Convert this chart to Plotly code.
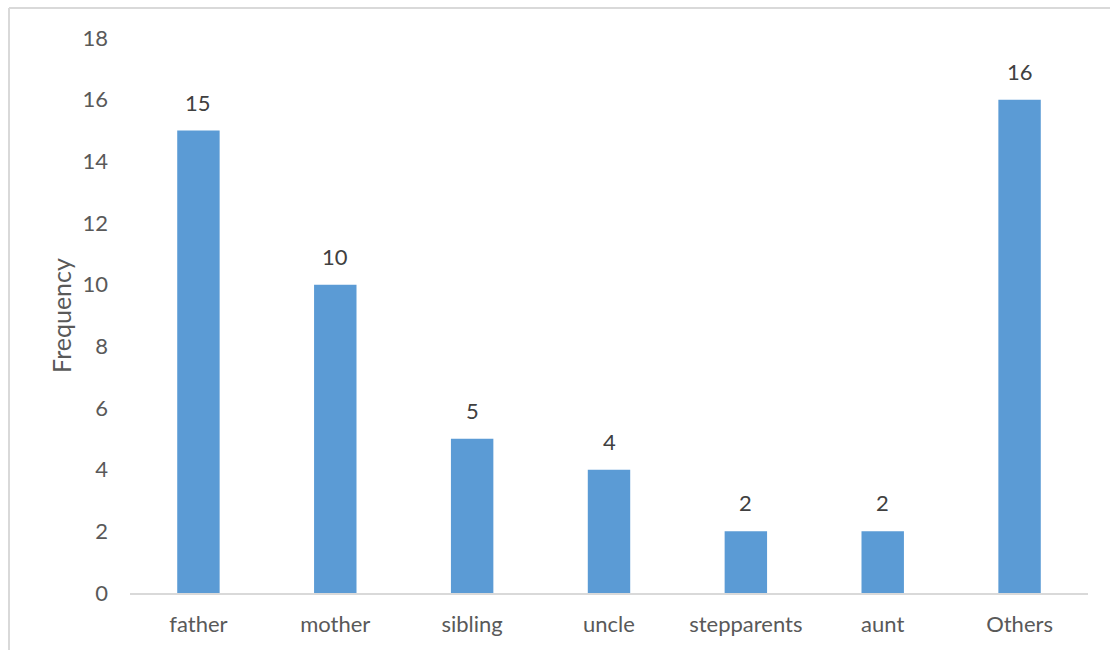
import plotly.graph_objects as go

categories = ["father", "mother", "sibling", "uncle", "stepparents", "aunt", "Others"]
frequency = [15, 10, 5, 4, 2, 2, 16]
y_ticks = [0, 2, 4, 6, 8, 10, 12, 14, 16, 18]

FONT = "Lato"
SIZE = 22
fig = go.Figure(
    go.Bar(
        x=categories,
        y=frequency,
        marker=dict(color="#5B9BD5", line=dict(width=0)),
        hoverinfo="x+y",
    )
)

# data labels above bars
for c, v in zip(categories, frequency):
    fig.add_annotation(
        x=c, y=v, text=str(v), showarrow=False, yanchor="bottom", yshift=13,
        font=dict(family=FONT, size=SIZE, color="#404040"),
    )

fig.update_layout(
    width=1110,
    height=650,
    margin=dict(l=130, r=22, t=38, b=57),
    paper_bgcolor="white",
    plot_bgcolor="white",
    bargap=0.69,
    showlegend=False,
    font=dict(family=FONT, size=SIZE, color="#595959"),
    xaxis=dict(
        showline=True,
        linecolor="#D9D9D9",
        linewidth=1.5,
        showgrid=False,
        ticks="",
        tickfont=dict(family=FONT, size=SIZE, color="#595959"),
        ticklabelstandoff=11,
    ),
    yaxis=dict(
        range=[0, 18],
        tickvals=y_ticks,
        showline=False,
        showgrid=False,
        zeroline=False,
        ticks="",
        tickfont=dict(family=FONT, size=SIZE, color="#595959"),
        ticklabelstandoff=21,
        title=dict(text="Frequency", font=dict(family=FONT, size=25, color="#595959"), standoff=3),
    ),
    shapes=[
        dict(type="line", xref="paper", yref="paper", x0=-0.1263, x1=1.03, y0=1.054, y1=1.054,
             line=dict(color="#D9D9D9", width=2)),
        dict(type="line", xref="paper", yref="paper", x0=-0.1263, x1=-0.1263, y0=1.054, y1=-0.11,
             line=dict(color="#D9D9D9", width=2)),
    ],
)

fig.write_html("out.html")
